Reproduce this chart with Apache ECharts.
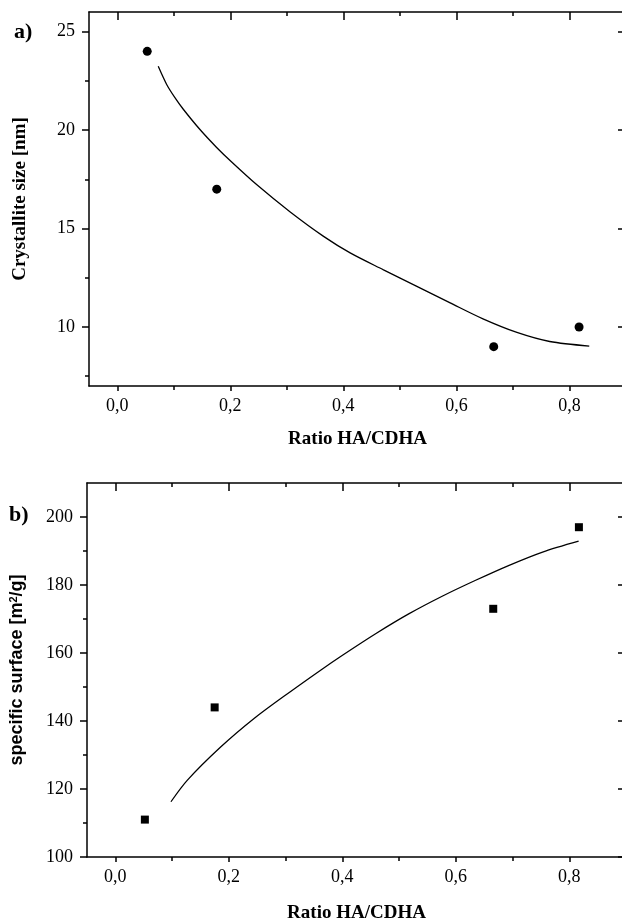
<!DOCTYPE html>
<html>
<head>
<meta charset="utf-8">
<script src="https://cdn.jsdelivr.net/npm/echarts@6/dist/echarts.min.js"></script>
<style>
  html, body { margin: 0; padding: 0; background: #fff; }
  #main { width: 622px; height: 922px; }
</style>
</head>
<body>
<div id="main"></div>
<script>
// panel a) crystallite size
var sizeX = [0.053, 0.176, 0.666, 0.817];
var sizeY = [24, 17, 9, 10];
var sizeFitX = [0.0725, 0.0874, 0.102, 0.1168, 0.1463, 0.1758, 0.2024, 0.247, 0.306, 0.365, 0.412, 0.471, 0.530, 0.589, 0.647, 0.707, 0.765, 0.835];
var sizeFitY = [23.24, 22.32, 21.65, 21.06, 20.03, 19.12, 18.38, 17.22, 15.84, 14.60, 13.76, 12.90, 12.06, 11.22, 10.41, 9.72, 9.26, 9.03];
var sizeTicks = [10, 15, 20, 25];
var sizeMinor = [7.5, 12.5, 17.5, 22.5];

// panel b) specific surface
var surfX = [0.052, 0.175, 0.666, 0.817];
var surfY = [111, 144, 173, 197];
var surfFitX = [0.098, 0.127, 0.186, 0.245, 0.304, 0.363, 0.399, 0.458, 0.517, 0.576, 0.635, 0.694, 0.753, 0.8165];
var surfFitY = [116.25, 122.6, 132.4, 140.8, 148.1, 155.1, 159.2, 165.6, 171.5, 176.7, 181.4, 185.8, 189.7, 192.9];
var surfTicks = [100, 120, 140, 160, 180, 200];
var surfMinor = [110, 130, 150, 170, 190];

var ratioTicks = [0, 0.2, 0.4, 0.6, 0.8];
var ratioMinor = [0.1, 0.3, 0.5, 0.7];

function zip(xs, ys) {
    return xs.map(function (x, i) { return [x, ys[i]]; });
}

var serif = 'Liberation Serif';
var lineStyle = { color: '#000', width: 1.5 };

function xAxes(grid, nameGap) {
    var base = { type: 'value', gridIndex: grid, min: -0.05, max: 0.9, splitLine: { show: false } };
    return [
        Object.assign({}, base, {
            position: 'bottom',
            name: 'Ratio HA/CDHA', nameLocation: 'middle', nameGap: nameGap,
            nameTextStyle: { fontFamily: serif, fontWeight: 'bold', fontSize: 19, color: '#000' },
            axisLine: { onZero: false, lineStyle: lineStyle },
            axisTick: { customValues: ratioTicks, length: 5, lineStyle: lineStyle },
            axisLabel: {
                customValues: ratioTicks, margin: 11, fontFamily: serif, fontSize: 18, color: '#000',
                formatter: function (v) { return v.toFixed(1).replace('.', ','); }
            }
        }),
        Object.assign({}, base, {
            position: 'bottom', axisLine: { show: false, onZero: false },
            axisTick: { customValues: ratioMinor, length: 4, lineStyle: lineStyle },
            axisLabel: { show: false }
        }),
        Object.assign({}, base, {
            position: 'top', axisLine: { onZero: false, lineStyle: lineStyle },
            axisTick: { customValues: ratioTicks, inside: true, length: 8, lineStyle: lineStyle },
            axisLabel: { show: false }
        }),
        Object.assign({}, base, {
            position: 'top', axisLine: { show: false, onZero: false },
            axisTick: { customValues: ratioMinor, inside: true, length: 4, lineStyle: lineStyle },
            axisLabel: { show: false }
        })
    ];
}

function yAxes(grid, min, max, ticks, minor, name, nameStyle, nameGap) {
    var base = { type: 'value', gridIndex: grid, min: min, max: max, splitLine: { show: false } };
    return [
        Object.assign({}, base, {
            position: 'left',
            name: name, nameLocation: 'middle', nameGap: nameGap, nameRotate: 90,
            nameTextStyle: nameStyle,
            axisLine: { onZero: false, lineStyle: lineStyle },
            axisTick: { customValues: ticks, length: 7, lineStyle: lineStyle },
            axisLabel: { customValues: ticks, margin: 14, fontFamily: serif, fontSize: 18, color: '#000' }
        }),
        Object.assign({}, base, {
            position: 'left', axisLine: { show: false, onZero: false },
            axisTick: { customValues: minor, length: 4, lineStyle: lineStyle },
            axisLabel: { show: false }
        }),
        Object.assign({}, base, {
            position: 'right', axisLine: { onZero: false, lineStyle: lineStyle },
            axisTick: { customValues: ticks, inside: true, length: 8, lineStyle: lineStyle },
            axisLabel: { show: false }
        }),
        Object.assign({}, base, {
            position: 'right', axisLine: { show: false, onZero: false },
            axisTick: { customValues: minor, inside: true, length: 4, lineStyle: lineStyle },
            axisLabel: { show: false }
        })
    ];
}

var chart = echarts.init(document.getElementById('main'), null, { renderer: 'canvas' });

chart.setOption({
    animation: false,
    backgroundColor: '#fff',
    grid: [
        { left: 89, top: 12, width: 537, height: 374, outerBoundsMode: 'none' },
        { left: 87, top: 483, width: 539, height: 374, outerBoundsMode: 'none' }
    ],
    graphic: [
        { type: 'text', left: 14, top: 21, style: { text: 'a)', font: 'bold 22px "Liberation Serif"', fill: '#000' } },
        { type: 'text', left: 9, top: 504, style: { text: 'b)', font: 'bold 22px "Liberation Serif"', fill: '#000' } }
    ],
    xAxis: xAxes(0, 44).concat(xAxes(1, 47)),
    yAxis: yAxes(0, 7, 26, sizeTicks, sizeMinor, 'Crystallite size [nm]',
            { fontFamily: serif, fontWeight: 'bold', fontSize: 19, color: '#000' }, 59)
        .concat(yAxes(1, 100, 210, surfTicks, surfMinor, 'specific surface [m{sup|2}/g]',
            { fontFamily: 'Liberation Sans', fontWeight: 'bold', fontSize: 18, color: '#000',
              rich: { sup: { fontFamily: 'Liberation Sans', fontWeight: 'bold', fontSize: 11, color: '#000', verticalAlign: 'top', padding: [0, 0, 8, 0] } } }, 60)),
    series: [
        {
            type: 'line', xAxisIndex: 0, yAxisIndex: 0, data: zip(sizeFitX, sizeFitY),
            smooth: 0.3, showSymbol: false, lineStyle: { color: '#000', width: 1.3 }
        },
        {
            type: 'scatter', xAxisIndex: 0, yAxisIndex: 0, data: zip(sizeX, sizeY),
            symbol: 'circle', symbolSize: 9, itemStyle: { color: '#000', opacity: 1 }
        },
        {
            type: 'line', xAxisIndex: 4, yAxisIndex: 4, data: zip(surfFitX, surfFitY),
            smooth: 0.3, showSymbol: false, lineStyle: { color: '#000', width: 1.3 }
        },
        {
            type: 'scatter', xAxisIndex: 4, yAxisIndex: 4, data: zip(surfX, surfY),
            symbol: 'rect', symbolSize: 8, itemStyle: { color: '#000', opacity: 1 }
        }
    ]
});
</script>
</body>
</html>
